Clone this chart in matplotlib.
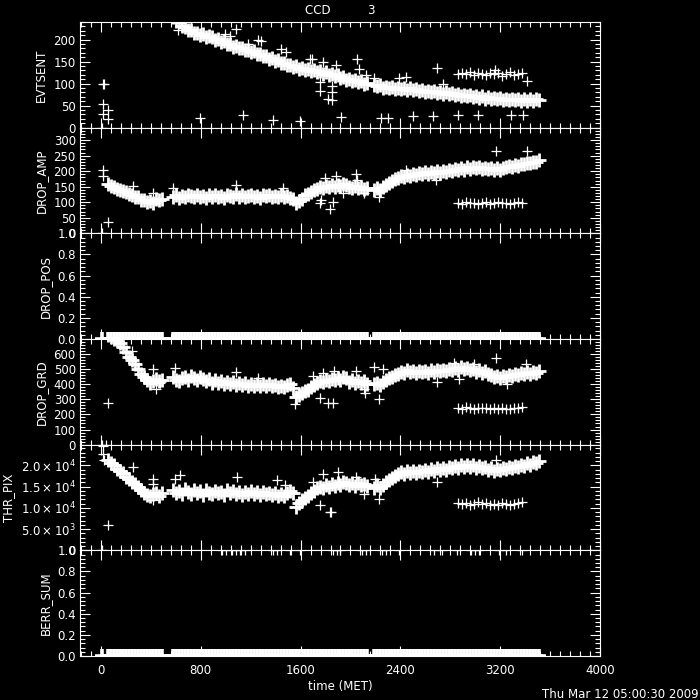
import matplotlib

matplotlib.use("Agg")
import matplotlib.pyplot as plt
from matplotlib.ticker import MultipleLocator, FixedLocator, FixedFormatter, FormatStrFormatter

plt.rcParams["font.family"] = ["DejaVu Sans"]

# --- time samples of the main band (MET) ---
t_main = (
    [56, 80, 104, 128, 152, 176, 200, 224, 248, 272, 296, 320, 344, 368, 392, 416]
    + [440, 464, 488]
    + [576, 600, 624, 648, 672, 696, 720, 744, 768, 792, 816, 840, 864]
    + [888, 912, 936, 960, 984, 1008, 1032, 1056, 1080, 1104,
       1128, 1152, 1176, 1200, 1224, 1248, 1272, 1296, 1320, 1344,
       1368, 1392, 1416, 1440, 1464, 1488, 1512, 1536, 1560, 1584,
       1608, 1632, 1656, 1680, 1704, 1728, 1752, 1776, 1800, 1824,
       1848, 1872, 1896, 1920, 1944, 1968, 1992, 2016, 2040, 2064,
       2088, 2112, 2136]
    + [2192, 2216, 2240, 2264, 2288, 2312, 2336, 2360, 2384, 2408,
       2432, 2456, 2480, 2504, 2528, 2552, 2576, 2600, 2624, 2648,
       2672, 2696, 2720, 2744, 2768, 2792, 2816, 2840, 2864, 2888,
       2912, 2936, 2960, 2984, 3008, 3032, 3056, 3080, 3104, 3128,
       3152, 3176, 3200, 3224, 3248, 3272, 3296, 3320, 3344, 3368,
       3392, 3416, 3440, 3464, 3488, 3512]
)

evtsent = (
    [410, 400, 392, 383, 372, 365, 355, 348, 340, 332, 324, 317, 310, 303, 296, 290]
    + [283, 277, 271]
    + [251, 243, 240, 232, 229, 222, 221, 216, 216, 211, 212, 207, 209]
    + [205, 200, 201, 195, 196, 190, 190, 184, 185, 180,
       181, 176, 177, 171, 173, 167, 168, 162, 163, 157,
       158, 152, 153, 147, 148, 142, 143, 137, 139, 134,
       136, 131, 133, 128, 131, 126, 128, 123, 126, 120,
       123, 118, 120, 113, 115, 109, 111, 106, 108, 103,
       105, 100, 102]
    + [98, 94, 96, 91, 93, 89, 92, 88, 91, 87,
       90, 86, 89, 85, 87, 83, 86, 82, 84, 80,
       83, 79, 81, 77, 80, 76, 78, 74, 77, 72,
       75, 71, 74, 69, 72, 68, 71, 66, 69, 65,
       68, 64, 67, 63, 66, 62, 66, 62, 66, 61,
       65, 61, 65, 61, 64, 62]
)

drop_amp = (
    [158, 153, 150, 144, 141, 135, 134, 127, 124, 118, 116, 108, 106, 100, 104, 99]
    + [112, 106, 110]
    + [118, 122, 115, 121, 117, 124, 119, 116, 123, 118, 121, 115, 122]
    + [117, 123, 118, 121, 115, 124, 119, 117, 125, 118,
       122, 116, 121, 124, 118, 120, 115, 122, 119, 124,
       117, 121, 118, 123, 116, 120, 114, 110, 98, 104,
       112, 122, 128, 133, 139, 143, 150, 146, 153, 148,
       154, 149, 156, 152, 160, 155, 150, 146, 151, 145,
       149, 143, 147]
    + [141, 145, 140, 148, 155, 163, 168, 174, 178, 183,
       181, 188, 185, 191, 187, 194, 190, 196, 192, 197,
       193, 199, 194, 200, 197, 204, 200, 207, 203, 210,
       205, 212, 208, 214, 209, 213, 207, 211, 206, 210,
       205, 209, 204, 210, 213, 217, 215, 220, 218, 224,
       222, 227, 225, 230, 229, 235]
)

drop_grd = (
    [725, 712, 700, 690, 672, 645, 615, 582, 556, 530, 500, 470, 445, 425, 410, 418]
    + [432, 420, 428]
    + [445, 430, 421, 438, 448, 430, 452, 440, 425, 446, 432, 418, 435]
    + [410, 425, 405, 418, 400, 415, 398, 412, 395, 408,
       392, 405, 390, 402, 388, 400, 386, 398, 390, 402,
       385, 395, 378, 388, 380, 395, 400, 372, 312, 325,
       340, 352, 362, 380, 392, 405, 420, 412, 428, 418,
       435, 425, 440, 430, 445, 438, 412, 425, 408, 422,
       405, 418, 402]
    + [398, 410, 395, 415, 428, 440, 448, 462, 470, 482,
       476, 490, 478, 486, 475, 488, 478, 485, 476, 490,
       480, 493, 484, 495, 486, 500, 490, 505, 495, 510,
       498, 505, 490, 500, 482, 492, 475, 485, 465, 458,
       448, 455, 440, 452, 445, 460, 452, 468, 460, 472,
       465, 478, 470, 482, 476, 488]
)

thr_pix = (
    [21300, 20600, 20100, 19200, 18600, 18200, 17300, 16900, 16200, 15700,
     15000, 14300, 13600, 13100, 12900, 13300]
    + [13600, 12900, 13400]
    + [14200, 13500, 14000, 13300, 14400, 13700, 13200, 14100, 13500, 13900,
       13100, 14200, 13600]
    + [13300, 14000, 13400, 13800, 13100, 14100, 13500, 13900, 13200, 13700,
       13000, 13800, 13300, 13900, 13200, 13700, 13100, 13800, 13300, 13600,
       13000, 13500, 12800, 13300, 12900, 13500, 13900, 13400, 10300, 11200,
       11800, 12300, 12900, 13500, 14000, 14600, 15000, 14600, 15300, 14900,
       15700, 15200, 15900, 15500, 16200, 15800, 15300, 15800, 15200, 15900,
       15400, 15700, 15100]
    + [14800, 15300, 14700, 15500, 16200, 16600, 17100, 17600, 17900, 18400,
       18100, 18600, 18200, 18700, 18300, 18800, 18400, 18900, 18500, 19100,
       18700, 19300, 18900, 19400, 19000, 19600, 19300, 19800, 19500, 20000,
       19700, 20100, 19600, 20000, 19500, 19800, 19300, 19600, 19000, 19300,
       18800, 19200, 18900, 19400, 19100, 19700, 19400, 19900, 19600, 20200,
       19900, 20500, 20200, 20800, 20600, 21100]
)

# --- second, lower group seen late in the run ---
t_side = [2864, 2896, 2928, 2960, 2992, 3024, 3056, 3088, 3120,
          3152, 3184, 3216, 3248, 3280, 3312, 3344, 3376]
evtsent_side = [121, 125, 122, 126, 120, 124, 123, 119, 125, 121, 124, 118, 123, 126, 120, 122, 124]
drop_amp_side = [98, 95, 100, 96, 99, 94, 98, 101, 95, 97, 100, 96, 99, 95, 98, 100, 97]
drop_grd_side = [244, 238, 246, 240, 236, 243, 239, 245, 237, 241, 235, 242, 238, 236, 244, 240, 248]
thr_pix_side = [11100, 10900, 11200, 10800, 11000, 11300, 10900, 11100, 10700,
                11000, 10800, 11200, 10900, 10700, 11000, 11100, 11300]

# --- isolated points ---
t_evt_out = [8, 16, 24, 16, 16, 59, 59, 616, 792, 992, 1032, 1085, 1139, 1179, 1259,
             1285, 1379, 1445, 1480, 1592, 1672, 1688, 1757, 1757, 1779, 1819, 1851,
             1851, 1853, 1885, 1925, 2051, 2067, 2125, 2192, 2245, 2299, 2392, 2445,
             2499, 2664, 2691, 2739, 2859, 3019, 3160, 3285, 3379, 3411]
evt_out = [0, 100, 100, 54, 32, 41, 20, 221, 22, 212, 208, 225, 29, 191, 200,
           197, 18, 179, 172, 16, 157, 155, 103, 84, 150, 65, 95,
           80, 63, 142, 24, 155, 133, 120, 113, 22, 22, 113, 116,
           26, 26, 135, 100, 28, 28, 131, 28, 28, 107]

t_amp_out = [8, 19, 19, 59, 259, 419, 579, 1085, 1459, 1752, 1760, 1792, 1832,
             1860, 1885, 1939, 2045, 2050, 2112, 2232, 2240, 2445, 2685, 3165, 3411]
amp_out = [0, 204, 183, 38, 151, 129, 145, 156, 145, 97, 108, 177, 79,
           100, 183, 129, 190, 173, 129, 118, 134, 204, 172, 266, 264]

t_grd_out = [8, 40, 59, 245, 419, 440, 472, 592, 805, 899, 1085, 1259, 1552, 1699,
             1752, 1779, 1819, 1859, 1870, 2045, 2112, 2120, 2192, 2232, 2259, 2691,
             2832, 2872, 2992, 3165, 3256, 3405]
grd_out = [0, 0, 278, 618, 498, 366, 410, 509, 432, 399, 480, 443, 268, 454,
           311, 476, 278, 278, 487, 487, 366, 344, 513, 301, 498, 417,
           542, 432, 531, 574, 399, 531]

t_thr_out = [8, 16, 19, 22, 59, 259, 419, 419, 419, 592, 632, 1091, 1413, 1472, 1699,
             1752, 1779, 1832, 1845, 1899, 2045, 2112, 2200, 2232, 2691, 3165]
thr_out = [0, 24700, 22770, 21200, 5940, 19620, 16900, 15720, 11800, 16900, 17670,
           17280, 16500, 15330, 16100, 10630, 18070, 9060, 9060, 18450, 17280, 13380,
           16900, 12200, 16100, 21360]

# DROP_POS and BERR_SUM are zero along the whole run
t_zero = [8] + t_main
drop_pos = [0.0] * len(t_zero)
berr_sum = [0.0] * len(t_zero)
t_berr_one = [968, 1000, 1048, 1080, 1112, 1152, 1376, 1408, 1512, 1592, 1856, 1888,
              1912, 2096, 2128, 2256, 2288, 2392, 2672, 2736, 2856, 2968, 3000, 3032,
              3192, 3248, 3376]
berr_one = [1.0] * len(t_berr_one)

x_ticks = [0, 800, 1600, 2400, 3200, 4000]

FS = 8.5
W = 700.0
fig = plt.figure(figsize=(7, 7), dpi=100, facecolor="black")

top_px, bot_px = 22.0, 656.0
h_px = (bot_px - top_px) / 6
left, width = 80 / W, 520 / W

panels = [
    ("EVTSENT", (0, 240), 50, 10, None),
    ("DROP_AMP", (0, 340), 50, 10, None),
    ("DROP_POS", (0, 1.0), 0.2, 0.04, "%.1f"),
    ("DROP_GRD", (0, 698), 100, 20, None),
    ("THR_PIX", (0, 24900), 5000, 1000, "thr"),
    ("BERR_SUM", (0, 1.0), 0.2, 0.04, "%.1f"),
]
# (dense band, extra points, band marker width) per panel
series = [
    ([(t_main, evtsent)], [(t_side, evtsent_side), (t_evt_out, evt_out)], 2.0),
    ([(t_main, drop_amp)], [(t_side, drop_amp_side), (t_amp_out, amp_out)], 2.0),
    ([(t_zero, drop_pos)], [], 2.6),
    ([(t_main, drop_grd)], [(t_side, drop_grd_side), (t_grd_out, grd_out)], 2.0),
    ([(t_main, thr_pix)], [(t_side, thr_pix_side), (t_thr_out, thr_out)], 2.0),
    ([(t_zero, berr_sum)], [(t_berr_one, berr_one)], 2.6),
]

for i, ((name, ylim, major, minor, fmt), (band, extra, bw)) in enumerate(zip(panels, series)):
    y0 = 1 - (top_px + (i + 1) * h_px) / W
    ax = fig.add_axes([left, y0, width, h_px / W])
    ax.set_facecolor("black")
    for xs, ys in band:
        ax.plot(xs, ys, "+", color="white", ms=9.5, mew=bw, linestyle="none")
    for xs, ys in extra:
        ax.plot(xs, ys, "+", color="white", ms=7, mew=0.9, linestyle="none")
    ax.set_xlim(-168, 4000)
    ax.set_ylim(*ylim)
    ax.xaxis.set_major_locator(FixedLocator(x_ticks))
    ax.xaxis.set_minor_locator(MultipleLocator(80))
    if fmt == "thr":
        ax.yaxis.set_major_locator(FixedLocator([0, 5000, 10000, 15000, 20000]))
        ax.yaxis.set_major_formatter(FixedFormatter(
            ["0", r"$5.0\times10^{3}$", r"$1.0\times10^{4}$",
             r"$1.5\times10^{4}$", r"$2.0\times10^{4}$"]))
    else:
        ax.yaxis.set_major_locator(MultipleLocator(major))
        if fmt:
            ax.yaxis.set_major_formatter(FormatStrFormatter(fmt))
    ax.yaxis.set_minor_locator(MultipleLocator(minor))
    for s in ax.spines.values():
        s.set_color("white")
        s.set_linewidth(0.8)
    ax.tick_params(which="both", direction="in", colors="white", top=True, right=True,
                   width=0.8, labelsize=FS)
    ax.tick_params(which="major", length=7)
    ax.tick_params(which="minor", length=3.5)
    ax.tick_params(axis="y", pad=3)
    ax.set_ylabel(name, color="white", fontsize=FS, labelpad=4)
    if i < 5:
        ax.tick_params(axis="x", labelbottom=False)
    else:
        ax.tick_params(axis="x", pad=6)
        ax.set_xlabel("time (MET)", color="white", fontsize=FS, labelpad=2)

fig.text(340 / W, 1 - 11 / W, "CCD          3", color="white", fontsize=FS,
         ha="center", va="center")
fig.text(699 / W, 1 - 694 / W, "Thu Mar 12 05:00:30 2009", color="white", fontsize=FS,
         ha="right", va="center")

fig.savefig("out.png", dpi=100, facecolor="black")
